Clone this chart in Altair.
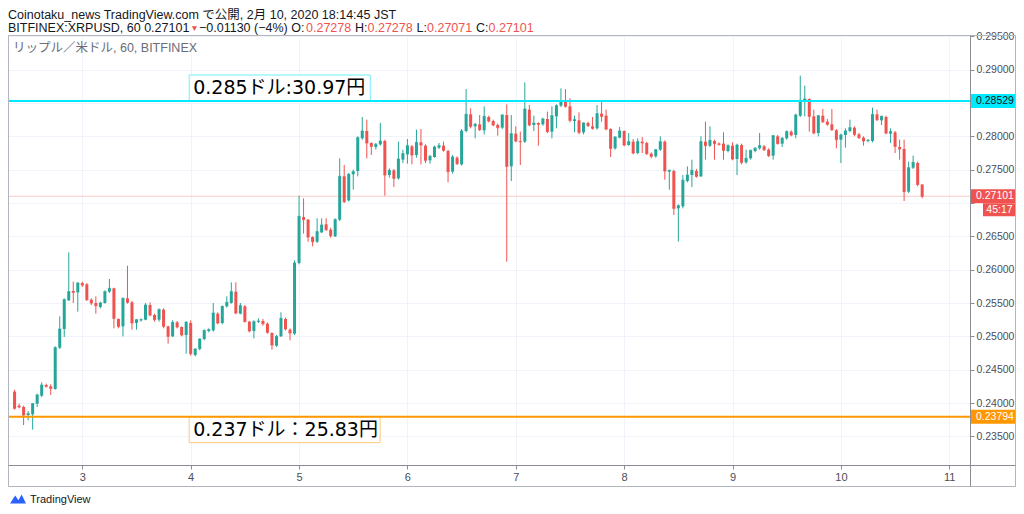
import altair as alt
import pandas as pd

# ---------------- data: hourly BITFINEX XRPUSD candles ----------------
opens = [
    0.2417, 0.2396, 0.2394, 0.2382, 0.2383, 0.2399, 0.2411, 0.2427, 0.2425, 0.2421,
    0.2483, 0.2511, 0.2554, 0.2568, 0.2566, 0.2580, 0.2578, 0.2555, 0.2550, 0.2544,
    0.2550, 0.2567, 0.2572, 0.2526, 0.2515, 0.2557, 0.2551, 0.2520, 0.2524, 0.2525,
    0.2547, 0.2532, 0.2525, 0.2540, 0.2515, 0.2500, 0.2521, 0.2514, 0.2502, 0.2520,
    0.2472, 0.2481, 0.2496, 0.2508, 0.2509, 0.2534, 0.2520, 0.2545, 0.2550, 0.2567,
    0.2534, 0.2545, 0.2522, 0.2508, 0.2522, 0.2523, 0.2519, 0.2505, 0.2486, 0.2500,
    0.2526, 0.2510, 0.2504, 0.2610, 0.2679, 0.2675, 0.2649, 0.2642, 0.2656, 0.2668,
    0.2660, 0.2650, 0.2675, 0.2740, 0.2704, 0.2743, 0.2748, 0.2797, 0.2808, 0.2790,
    0.2784, 0.2788, 0.2793, 0.2742, 0.2749, 0.2737, 0.2765, 0.2773, 0.2785, 0.2772,
    0.2791, 0.2786, 0.2764, 0.2769, 0.2783, 0.2786, 0.2778, 0.2747, 0.2768, 0.2758,
    0.2808, 0.2833, 0.2815, 0.2818, 0.2809, 0.2829, 0.2823, 0.2817, 0.2813, 0.2832,
    0.2755, 0.2804, 0.2793, 0.2792, 0.2840, 0.2817, 0.2820, 0.2818, 0.2826, 0.2807,
    0.2830, 0.2846, 0.2852, 0.2845, 0.2823, 0.2824, 0.2806, 0.2820, 0.2815, 0.2812,
    0.2834, 0.2831, 0.2811, 0.2782, 0.2798, 0.2808, 0.2787, 0.2792, 0.2775, 0.2792,
    0.2790, 0.2774, 0.2770, 0.2780, 0.2792, 0.2747, 0.2748, 0.2692, 0.2695, 0.2733,
    0.2742, 0.2748, 0.2740, 0.2792, 0.2786, 0.2793, 0.2789, 0.2789, 0.2778, 0.2786,
    0.2766, 0.2787, 0.2761, 0.2767, 0.2778, 0.2782, 0.2785, 0.2780, 0.2771, 0.2800,
    0.2789, 0.2797, 0.2807, 0.2802, 0.2831, 0.2853, 0.2856, 0.2830, 0.2805, 0.2831,
    0.2822, 0.2818, 0.2809, 0.2795, 0.2802, 0.2808, 0.2813, 0.2803, 0.2798, 0.2793,
    0.2793, 0.2833, 0.2824, 0.2829, 0.2804, 0.2806, 0.2784, 0.2781, 0.2717, 0.2753,
    0.2760, 0.27278,
]
highs = [
    0.2420, 0.2399, 0.2396, 0.2388, 0.2400, 0.2414, 0.2431, 0.2429, 0.2428, 0.2485,
    0.2530, 0.2557, 0.2626, 0.2582, 0.2581, 0.2582, 0.2580, 0.2557, 0.2560, 0.2552,
    0.2569, 0.2586, 0.2573, 0.2527, 0.2558, 0.2606, 0.2553, 0.2526, 0.2527, 0.2550,
    0.2551, 0.2534, 0.2542, 0.2542, 0.2516, 0.2524, 0.2523, 0.2515, 0.2523, 0.2524,
    0.2482, 0.2497, 0.2510, 0.2512, 0.2550, 0.2536, 0.2546, 0.2560, 0.2581, 0.2581,
    0.2550, 0.2547, 0.2523, 0.2524, 0.2527, 0.2526, 0.2521, 0.2506, 0.2502, 0.2536,
    0.2528, 0.2512, 0.2614, 0.2711, 0.2707, 0.2676, 0.2650, 0.2677, 0.2677, 0.2677,
    0.2663, 0.2677, 0.2767, 0.2757, 0.2745, 0.2750, 0.2800, 0.2829, 0.2825, 0.2791,
    0.2790, 0.2820, 0.2795, 0.2752, 0.2751, 0.2792, 0.2780, 0.2796, 0.2787, 0.2810,
    0.2811, 0.2788, 0.2772, 0.2786, 0.2790, 0.2792, 0.2780, 0.2772, 0.2770, 0.2811,
    0.2871, 0.2842, 0.2820, 0.2832, 0.2845, 0.2831, 0.2825, 0.2819, 0.2833, 0.2848,
    0.2832, 0.2815, 0.2807, 0.2881, 0.2847, 0.2831, 0.2821, 0.2828, 0.2837, 0.2845,
    0.2848, 0.2872, 0.2871, 0.2857, 0.2831, 0.2836, 0.2821, 0.2822, 0.2829, 0.2847,
    0.2852, 0.2840, 0.2812, 0.2800, 0.2814, 0.2809, 0.2805, 0.2796, 0.2797, 0.2799,
    0.2792, 0.2776, 0.2781, 0.2800, 0.2794, 0.2750, 0.2750, 0.2698, 0.2742, 0.2755,
    0.2765, 0.2751, 0.2800, 0.2822, 0.2815, 0.2795, 0.2791, 0.2806, 0.2788, 0.2791,
    0.2789, 0.2789, 0.2780, 0.2780, 0.2784, 0.2805, 0.2787, 0.2782, 0.2802, 0.2802,
    0.2799, 0.2809, 0.2809, 0.2834, 0.2891, 0.2876, 0.2857, 0.2840, 0.2832, 0.2841,
    0.2826, 0.2841, 0.2811, 0.2804, 0.2812, 0.2825, 0.2815, 0.2805, 0.2800, 0.2796,
    0.2843, 0.2840, 0.2831, 0.2831, 0.2812, 0.2808, 0.2795, 0.2795, 0.2762, 0.2771,
    0.2762, 0.27278,
]
lows = [
    0.2390, 0.2392, 0.2367, 0.2374, 0.2360, 0.2394, 0.2409, 0.2423, 0.2412, 0.2420,
    0.2481, 0.2499, 0.2553, 0.2550, 0.2537, 0.2574, 0.2553, 0.2547, 0.2534, 0.2542,
    0.2549, 0.2565, 0.2512, 0.2512, 0.2500, 0.2549, 0.2510, 0.2510, 0.2522, 0.2524,
    0.2530, 0.2522, 0.2522, 0.2512, 0.2489, 0.2499, 0.2512, 0.2500, 0.2474, 0.2471,
    0.2470, 0.2479, 0.2494, 0.2506, 0.2507, 0.2518, 0.2518, 0.2543, 0.2549, 0.2533,
    0.2533, 0.2521, 0.2506, 0.2497, 0.2520, 0.2516, 0.2504, 0.2480, 0.2484, 0.2499,
    0.2509, 0.2494, 0.2502, 0.2608, 0.2654, 0.2642, 0.2635, 0.2640, 0.2655, 0.2658,
    0.2648, 0.2649, 0.2673, 0.2700, 0.2702, 0.2720, 0.2740, 0.2795, 0.2767, 0.2772,
    0.2780, 0.2786, 0.2711, 0.2738, 0.2724, 0.2735, 0.2760, 0.2759, 0.2758, 0.2768,
    0.2758, 0.2760, 0.2759, 0.2768, 0.2781, 0.2777, 0.2731, 0.2744, 0.2757, 0.2756,
    0.2806, 0.2812, 0.2797, 0.2808, 0.2803, 0.2821, 0.2815, 0.2801, 0.2811, 0.2612,
    0.2733, 0.2791, 0.2757, 0.2790, 0.2815, 0.2808, 0.2786, 0.2816, 0.2805, 0.2797,
    0.2812, 0.2844, 0.2843, 0.2821, 0.2806, 0.2803, 0.2803, 0.2814, 0.2810, 0.2810,
    0.2822, 0.2809, 0.2769, 0.2780, 0.2797, 0.2785, 0.2786, 0.2773, 0.2773, 0.2775,
    0.2772, 0.2767, 0.2768, 0.2778, 0.2735, 0.2720, 0.2682, 0.2642, 0.2692, 0.2731,
    0.2724, 0.2738, 0.2739, 0.2765, 0.2784, 0.2765, 0.2786, 0.2765, 0.2776, 0.2764,
    0.2742, 0.2758, 0.2759, 0.2765, 0.2776, 0.2780, 0.2778, 0.2769, 0.2765, 0.2788,
    0.2784, 0.2795, 0.2800, 0.2797, 0.2829, 0.2830, 0.2807, 0.2803, 0.2800, 0.2820,
    0.2816, 0.2808, 0.2782, 0.2760, 0.2783, 0.2806, 0.2800, 0.2796, 0.2786, 0.2791,
    0.2791, 0.2823, 0.2817, 0.2803, 0.2790, 0.2775, 0.2765, 0.2703, 0.2715, 0.2751,
    0.2725, 0.27071,
]
closes = [
    0.2392, 0.2394, 0.2382, 0.2384, 0.2399, 0.2412, 0.2427, 0.2425, 0.2422, 0.2483,
    0.2511, 0.2555, 0.2567, 0.2566, 0.2580, 0.2577, 0.2555, 0.2550, 0.2546, 0.2550,
    0.2567, 0.2572, 0.2527, 0.2515, 0.2557, 0.2551, 0.2520, 0.2525, 0.2525, 0.2547,
    0.2532, 0.2525, 0.2540, 0.2515, 0.2500, 0.2521, 0.2514, 0.2502, 0.2521, 0.2474,
    0.2481, 0.2496, 0.2509, 0.2510, 0.2535, 0.2520, 0.2545, 0.2551, 0.2567, 0.2535,
    0.2546, 0.2522, 0.2508, 0.2522, 0.2523, 0.2519, 0.2506, 0.2487, 0.2500, 0.2527,
    0.2511, 0.2505, 0.2610, 0.2680, 0.2675, 0.2649, 0.2642, 0.2657, 0.2667, 0.2660,
    0.2651, 0.2675, 0.2740, 0.2702, 0.2743, 0.2747, 0.2798, 0.2808, 0.2790, 0.2785,
    0.2788, 0.2793, 0.2742, 0.2749, 0.2737, 0.2766, 0.2774, 0.2786, 0.2772, 0.2791,
    0.2787, 0.2764, 0.2770, 0.2784, 0.2786, 0.2779, 0.2747, 0.2769, 0.2759, 0.2808,
    0.2833, 0.2815, 0.2818, 0.2810, 0.2830, 0.2823, 0.2817, 0.2813, 0.2832, 0.2755,
    0.2804, 0.2793, 0.2792, 0.2841, 0.2817, 0.2820, 0.2818, 0.2826, 0.2807, 0.2831,
    0.2846, 0.2852, 0.2845, 0.2824, 0.2825, 0.2806, 0.2820, 0.2816, 0.2812, 0.2834,
    0.2830, 0.2811, 0.2782, 0.2799, 0.2808, 0.2787, 0.2792, 0.2775, 0.2792, 0.2790,
    0.2774, 0.2770, 0.2780, 0.2792, 0.2748, 0.2749, 0.2692, 0.2696, 0.2734, 0.2742,
    0.2749, 0.2740, 0.2792, 0.2786, 0.2794, 0.2789, 0.2788, 0.2779, 0.2786, 0.2766,
    0.2787, 0.2761, 0.2767, 0.2779, 0.2782, 0.2786, 0.2780, 0.2771, 0.2801, 0.2789,
    0.2797, 0.2807, 0.2802, 0.2832, 0.2854, 0.2856, 0.2830, 0.2805, 0.2831, 0.2822,
    0.2818, 0.2810, 0.2795, 0.2802, 0.2808, 0.2813, 0.2803, 0.2798, 0.2793, 0.2794,
    0.2833, 0.2825, 0.2830, 0.2805, 0.2807, 0.2785, 0.2781, 0.2717, 0.2753, 0.2761,
    0.27278, 0.27101,
]
first_bar = "2020-02-02 09:00"          # one bar per hour (times as shown, JST)
price_ticks = [0.235, 0.240, 0.245, 0.250, 0.255, 0.260, 0.265,
               0.270, 0.275, 0.280, 0.285, 0.290, 0.295]
hidden_ticks = [0.270, 0.285]           # labels covered by the price tags
day_ticks = [3, 4, 5, 6, 7, 8, 9, 10, 11]

resistance = 0.28529
support = 0.23794
last_price = 0.27101
countdown = "45:17"
notes = ["0.285ドル:30.97円", "0.237ドル：25.83円"]

header1 = "Coinotaku_news TradingView.com で公開, 2月 10, 2020 18:14:45 JST"
symbol_txt = "BITFINEX:XRPUSD, 60 0.27101"
change_txt = "−0.01130 (−4%) O:"
ohlc_vals = ["0.27278", "0.27278", "0.27071", "0.27101"]
pane_title = "リップル／米ドル, 60, BITFINEX"

# ---------------- style / layout ----------------
TEAL, RED = "#26a69a", "#ef5350"
CYAN, ORANGE = "#00eaff", "#ff9800"
INK, GREY, FRAME, AXLINE, GRID = "#131722", "#4a4e59", "#b2b5be", "#8a8d96", "#f0f3fa"
LATIN = "'Liberation Sans', 'Noto Sans CJK JP', sans-serif"
NOTEFONT = "'DejaVu Sans', 'Noto Sans CJK JP', sans-serif"

W, H = 962, 430
Y_LO, Y_HI = 0.2307, 0.2952
ppx = (Y_HI - Y_LO) / H     # price per pixel

bar_times = pd.date_range(first_bar, periods=len(closes), freq="h").strftime("%Y-%m-%dT%H:%M:%SZ")
candles = pd.DataFrame({"t": bar_times, "open": opens, "high": highs,
                        "low": lows, "close": closes})

hide_expr = " || ".join(f"abs(datum.value - {v}) < 1e-7" for v in hidden_ticks)
xscale = alt.Scale(type="utc",
                   domain=[alt.DateTime(year=2020, month=2, date=2, hours=8, minutes=39, utc=True),
                           alt.DateTime(year=2020, month=2, date=11, hours=3, minutes=29, utc=True)])
yscale = alt.Scale(domain=[Y_LO, Y_HI], nice=False, zero=False)
xaxis = alt.Axis(orient="bottom", title=None, domain=False,
                 values=[alt.DateTime(year=2020, month=2, date=d, utc=True) for d in day_ticks],
                 labelExpr="utcdate(datum.value)", tickSize=4, tickColor=AXLINE,
                 labelPadding=2, labelFontSize=11, labelColor=GREY, labelFont=LATIN,
                 grid=True, gridColor=GRID, labelFlush=False, labelOverlap=False)
yaxis = alt.Axis(orient="right", title=None, domain=False, values=price_ticks,
                 labelExpr=f"({hide_expr}) ? '' : format(datum.value, '.5f')",
                 tickSize=4, tickColor=AXLINE, labelPadding=2,
                 labelFontSize=10.5, labelColor=GREY, labelFont=LATIN,
                 grid=True, gridColor=GRID, labelFlush=False, labelOverlap=False)


def X(f):
    return alt.X(f, type="temporal", scale=xscale, axis=xaxis)


def Y(f):
    return alt.Y(f, type="quantitative", scale=yscale, axis=yaxis)


updown = alt.condition("datum.close >= datum.open", alt.value(TEAL), alt.value(RED))
base = alt.Chart(candles)
wicks = base.mark_rule(strokeWidth=1).encode(x=X("t"), y=Y("low"), y2="high:Q", color=updown)
bodies = base.mark_bar(size=3).encode(x=X("t"), y=Y("open"), y2="close:Q", color=updown)
dojis = base.mark_tick(orient="horizontal", size=3, thickness=1).encode(
    x=X("t"), y=Y("close"), color=updown)

last_line = alt.Chart(pd.DataFrame({"p": [last_price]})).mark_rule(
    strokeWidth=1, color=RED, opacity=0.3).encode(y=Y("p"))

notes_df = pd.DataFrame({
    "x1": ["2020-02-03T23:40:00Z", "2020-02-03T23:40:00Z"],
    "x2": ["2020-02-05T15:46:00Z", "2020-02-05T17:57:00Z"],
    "y1": [resistance, support],
    "y2": [0.2892, 0.23405],
    "ty": [0.2864, 0.2350],
    "label": notes,
    "edge": ["#6ff0fb", "#ffc878"],
})
note_boxes = alt.Chart(notes_df).mark_rect(fill="white", strokeWidth=1).encode(
    x=X("x1"), x2="x2:T", y=Y("y1"), y2="y2:Q", stroke=alt.Stroke("edge:N", scale=None))
note_text = alt.Chart(notes_df).mark_text(
    align="left", baseline="alphabetic", dx=4, fontSize=19, font=NOTEFONT, color="#000000"
).encode(x=X("x1"), y=Y("ty"), text="label:N")

levels_df = pd.DataFrame({"p": [resistance, support], "c": [CYAN, ORANGE]})
level_lines = alt.Chart(levels_df).mark_rule(strokeWidth=2).encode(
    y=Y("p"), color=alt.Color("c:N", scale=None))

# price tags on the right-hand scale
tags_df = pd.DataFrame({"p": [resistance, last_price, support],
                        "fill": [CYAN, RED, ORANGE],
                        "ink": [INK, "#ffffff", "#ffffff"]})
tags_df["label"] = [f"{v:.5f}" for v in tags_df["p"]]
tags_df["top"] = tags_df["p"] + 7 * ppx
tags_df["bot"] = tags_df["p"] - 7 * ppx
tag_boxes = alt.Chart(tags_df).mark_rect().encode(
    x=alt.value(W), x2=alt.value(W + 46), y=Y("top"), y2="bot:Q",
    color=alt.Color("fill:N", scale=None))
tag_text = alt.Chart(tags_df).mark_text(align="left", baseline="middle", fontSize=10.5,
                                        font=LATIN).encode(
    x=alt.value(W + 6), y=Y("p"), text="label:N", color=alt.Color("ink:N", scale=None))

cd_df = pd.DataFrame({"top": [last_price - 7 * ppx], "bot": [last_price - 20 * ppx],
                      "mid": [last_price - 13.5 * ppx], "label": [countdown]})
cd_box = alt.Chart(cd_df).mark_rect(color=RED).encode(
    x=alt.value(W + 13), x2=alt.value(W + 46), y=Y("top"), y2="bot:Q")
cd_text = alt.Chart(cd_df).mark_text(align="center", baseline="middle", fontSize=10.5,
                                     font=LATIN, color="#ffffff").encode(
    x=alt.value(W + 29.5), y=Y("mid"), text="label:N")

one = pd.DataFrame({"k": [0]})


def rule(x1, x2, y1, y2, color):
    return alt.Chart(one).mark_rule(strokeWidth=1, color=color).encode(
        x=alt.value(x1), x2=alt.value(x2), y=alt.value(y1), y2=alt.value(y2))


RIGHT = W + 45.5
BOTTOM = H + 21.5
frame = [
    rule(0.5, RIGHT, 0.5, 0.5, FRAME),
    rule(0.5, 0.5, 0.5, BOTTOM, FRAME),
    rule(RIGHT, RIGHT, 0.5, BOTTOM, FRAME),
    rule(0.5, RIGHT, BOTTOM, BOTTOM, FRAME),
    rule(W + 0.5, W + 0.5, 0.5, BOTTOM, AXLINE),
    rule(0.5, RIGHT, H + 0.5, H + 0.5, AXLINE),
]


def label(txt, x, y, size, color, font=LATIN, align="left"):
    return alt.Chart(one).mark_text(align=align, baseline="alphabetic", fontSize=size,
                                    font=font, color=color).encode(
        x=alt.value(x), y=alt.value(y), text=alt.value(txt))


L1, L2, FS = -16, -3.5, 12.5
hdr = [
    label(header1, 0, L1, FS, INK),
    label(symbol_txt, 0, L2, FS, INK),
    label("▼", 182.3, L2 - 1, 8.5, RED),
    label(change_txt, 191, L2, FS, INK),
    label(ohlc_vals[0], 298, L2, FS, RED),
    label("H:", 347, L2, FS, INK),
    label(ohlc_vals[1], 359.5, L2, FS, RED),
    label("L:", 408.5, L2, FS, INK),
    label(ohlc_vals[2], 419, L2, FS, RED),
    label("C:", 468, L2, FS, INK),
    label(ohlc_vals[3], 480.5, L2, FS, RED),
    label(pane_title, 5, 17, 12.5, "#6a6d78"),
    label("TradingView", 22, 468, 11, INK),
]
logo = alt.Chart(one).mark_point(
    shape="M-1,0.55 L-0.35,-0.45 L0.05,0.15 L0.45,-0.55 L1,0.55 Z",
    size=256, filled=True, opacity=1, color="#2962ff", strokeWidth=0
).encode(x=alt.value(10), y=alt.value(464))

chart = alt.layer(
    wicks, bodies, dojis, last_line, note_boxes, level_lines, note_text,
    tag_boxes, tag_text, cd_box, cd_text, *frame, *hdr, logo
).properties(
    width=W, height=H,
    autosize=alt.AutoSizeParams(type="none"),
    padding={"left": 0, "top": 27, "right": 46, "bottom": 41},
    background="white",
).configure_view(stroke=None)

chart.save("out.html", embed_options={"renderer": "svg", "actions": False})
